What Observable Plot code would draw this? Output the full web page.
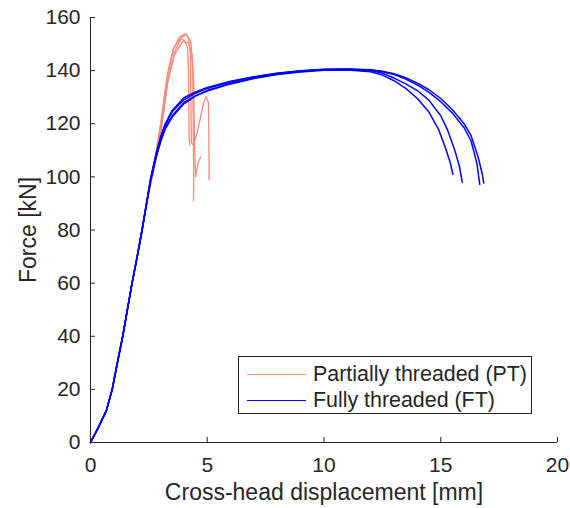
<!DOCTYPE html>
<html>
<head>
<meta charset="utf-8">
<script src="https://cdn.jsdelivr.net/npm/d3@7"></script>
<script src="https://cdn.jsdelivr.net/npm/@observablehq/plot@0.6"></script>
<style>
  html, body { margin: 0; padding: 0; background: #fff; }
  #wrap { position: relative; width: 570px; height: 508px; font-family: "Liberation Sans", Arial, sans-serif; }
  #legend { position: absolute; left: 238px; top: 356px; width: 292px; height: 56px; border: 1px solid #262626; background: #fff; color: #262626; font-size: 21.4px; }
  .row { position: absolute; left: 0; height: 24px; width: 100%; }
  .sw { position: absolute; left: 8px; width: 59px; top: 12px; height: 0; border-top: 1.3px solid; }
  .lb { position: absolute; left: 74px; top: 0; line-height: 24px; white-space: nowrap; }
</style>
</head>
<body>
<div id="wrap"></div>
<script>
// ---- Data ----
const xTicks = [0, 5, 10, 15, 20];
const yTicks = [0, 20, 40, 60, 80, 100, 120, 140, 160];
const seriesNames = ["Partially threaded (PT)", "Fully threaded (FT)"];
const seriesColors = ["#F88A78", "#0000FF"];

// Partially threaded (PT) specimens: displacement [mm], force [kN]
const pt1X = [0, 0.3, 0.68, 0.93, 1.15, 1.38, 1.58, 1.78, 2.0, 2.2, 2.4, 2.6, 2.8, 3.0, 3.28, 3.55, 3.8, 4.05, 4.2, 4.28, 4.3, 4.32, 4.4, 4.55, 4.7, 4.85, 4.95, 5.05, 5.07, 5.08];
const pt1Y = [0, 5, 12, 20, 30, 40, 50, 60, 70, 80, 90, 99, 107, 118, 137, 148, 152.5, 154, 152.5, 146, 130, 113, 112, 116, 122, 128, 130.2, 128, 115, 99];
const pt2X = [0, 0.3, 0.68, 0.93, 1.15, 1.38, 1.58, 1.78, 2.0, 2.2, 2.4, 2.6, 2.8, 3.0, 3.3, 3.6, 3.9, 4.1, 4.3, 4.38, 4.4, 4.42, 4.41];
const pt2Y = [0, 5, 12, 20, 30, 40, 50, 60, 70, 80, 89, 98, 106, 116, 135, 147, 152.5, 153.5, 151, 140, 120, 100, 91];
const pt3X = [0, 0.3, 0.68, 0.93, 1.15, 1.38, 1.58, 1.78, 2.0, 2.2, 2.4, 2.6, 2.8, 3.0, 3.3, 3.55, 3.85, 4.0, 4.15, 4.2, 4.22, 4.25];
const pt3Y = [0, 5, 12, 20, 30, 40, 50, 60, 70, 80, 90, 100, 109, 120, 139, 148.5, 152, 151.5, 149, 140, 115, 112];
const pt4X = [0, 0.3, 0.68, 0.93, 1.15, 1.38, 1.58, 1.78, 2.0, 2.2, 2.4, 2.6, 2.8, 3.0, 3.3, 3.6, 3.95, 4.2, 4.35, 4.42, 4.45, 4.5, 4.6, 4.71];
const pt4Y = [0, 5, 12, 20, 30, 40, 50, 60, 70, 80, 90, 99, 107.5, 117, 136, 146, 151, 150.5, 146, 135, 115, 100, 105, 107.5];

// Fully threaded (FT) specimens
const ft1X = [0, 0.3, 0.68, 0.93, 1.15, 1.38, 1.58, 1.78, 2.0, 2.21, 2.4, 2.57, 2.8, 3.0, 3.2, 3.5, 4.0, 4.5, 5, 6, 7, 8, 9, 10, 11, 12, 12.5, 13, 13.5, 14, 14.5, 14.9, 15.2, 15.4, 15.52];
const ft1Y = [0, 5, 12, 20, 30, 40, 50, 60, 70, 80, 90, 99, 107.5, 113.5, 118.5, 123, 128, 130.5, 132.3, 135, 137, 138.5, 139.5, 140.1, 140.2, 139.6, 138.3, 136.2, 133.3, 129.5, 124.3, 118, 111, 105.5, 101];
const ft2X = [0, 0.3, 0.68, 0.93, 1.15, 1.38, 1.58, 1.78, 2.0, 2.21, 2.4, 2.57, 2.8, 3.0, 3.2, 3.5, 4.0, 4.5, 5, 6, 7, 8, 9, 10, 11, 12, 12.5, 13, 13.5, 14, 14.5, 15, 15.3, 15.6, 15.8, 15.92];
const ft2Y = [0, 5, 12, 20, 30, 40, 50, 60, 70, 80, 90, 99, 108.5, 115, 120, 125, 129.8, 132, 133.7, 136, 137.7, 139, 139.9, 140.4, 140.5, 140, 139, 137.2, 135, 132.5, 128.8, 123, 117.5, 110, 104, 98];
const ft3X = [0, 0.3, 0.68, 0.93, 1.15, 1.38, 1.58, 1.78, 2.0, 2.21, 2.4, 2.57, 2.8, 3.0, 3.2, 3.5, 4.0, 4.5, 5, 6, 7, 8, 9, 10, 11, 12, 12.5, 13, 13.5, 14, 14.5, 15, 15.5, 16, 16.3, 16.55, 16.67];
const ft3Y = [0, 5, 12, 20, 30, 40, 50, 60, 70, 80, 90, 98, 107, 113, 118, 122.5, 127.5, 130.5, 132.5, 135.3, 137.2, 138.7, 139.7, 140.3, 140.5, 140.2, 139.6, 138.5, 136.8, 134.6, 131.8, 128.3, 124, 118.5, 113.5, 105, 97.2];
const ft4X = [0, 0.3, 0.68, 0.93, 1.15, 1.38, 1.58, 1.78, 2.0, 2.21, 2.4, 2.57, 2.8, 3.0, 3.2, 3.5, 4.0, 4.5, 5, 6, 7, 8, 9, 10, 11, 12, 12.5, 13, 13.5, 14, 14.5, 15, 15.5, 16, 16.3, 16.6, 16.78, 16.84];
const ft4Y = [0, 5, 12, 20, 30, 40, 50, 60, 70, 80, 90, 99, 108, 114.5, 119.5, 124.5, 129, 131.5, 133.3, 135.8, 137.6, 139, 140, 140.5, 140.6, 140.3, 139.8, 138.8, 137.3, 135.3, 132.8, 129.5, 125.3, 120, 115.5, 107.5, 101, 97.7];

// ---- Build table ----
const curves = [
  {id: "PT1", s: 0, x: pt1X, y: pt1Y}, {id: "PT2", s: 0, x: pt2X, y: pt2Y},
  {id: "PT3", s: 0, x: pt3X, y: pt3Y}, {id: "PT4", s: 0, x: pt4X, y: pt4Y},
  {id: "FT1", s: 1, x: ft1X, y: ft1Y}, {id: "FT2", s: 1, x: ft2X, y: ft2Y},
  {id: "FT3", s: 1, x: ft3X, y: ft3Y}, {id: "FT4", s: 1, x: ft4X, y: ft4Y}
];
const rows = curves.flatMap(c => c.x.map((xv, i) => ({id: c.id, series: seriesNames[c.s], x: xv, y: c.y[i]})));

const W = 570, H = 508, mL = 90, mR = 13, mT = 17, mB = 66;
const plotW = W - mL - mR, plotH = H - mT - mB;
const ink = "#262626";

const chart = Plot.plot({
  width: W, height: H,
  marginLeft: mL, marginRight: mR, marginTop: mT, marginBottom: mB,
  style: {fontFamily: "'Liberation Sans', Arial, sans-serif", fontSize: "21px", color: ink, background: "#fff"},
  x: {domain: [0, 20]},
  y: {domain: [0, 160]},
  color: {domain: seriesNames, range: seriesColors},
  marks: [
    Plot.line(rows.filter(d => d.series === seriesNames[0]), {x: "x", y: "y", z: "id", stroke: "series", strokeWidth: 1.3}),
    Plot.line(rows.filter(d => d.series === seriesNames[1]), {x: "x", y: "y", z: "id", stroke: "series", strokeWidth: 1.5}),
    Plot.ruleX(xTicks, {stroke: ink, insetTop: plotH - 5}),
    Plot.ruleY(yTicks, {stroke: ink, insetRight: plotW - 5}),
    Plot.ruleX([0], {stroke: ink}),
    Plot.ruleY([0], {stroke: ink}),
    Plot.axisX({ticks: xTicks, tickSize: 0, tickPadding: 15, label: null, fill: ink}),
    Plot.axisY({ticks: yTicks, tickSize: 0, tickPadding: 10, label: null, fill: ink}),
    Plot.text(["Cross-head displacement [mm]"], {frameAnchor: "bottom", dy: 57, textAnchor: "middle", text: d => d, fill: ink, fontSize: 23}),
    Plot.text(["Force [kN]"], {frameAnchor: "left", dx: -62, textAnchor: "middle", rotate: -90, text: d => d, fill: ink, fontSize: 23})
  ]
});

const wrap = document.getElementById("wrap");
wrap.appendChild(chart);

const legend = document.createElement("div");
legend.id = "legend";
seriesNames.forEach((name, i) => {
  const row = document.createElement("div");
  row.className = "row";
  row.style.top = (5 + i * 26) + "px";
  const sw = document.createElement("div");
  sw.className = "sw";
  sw.style.borderColor = seriesColors[i];
  const lb = document.createElement("div");
  lb.className = "lb";
  lb.textContent = name;
  row.appendChild(sw);
  row.appendChild(lb);
  legend.appendChild(row);
});
wrap.appendChild(legend);
</script>
</body>
</html>
